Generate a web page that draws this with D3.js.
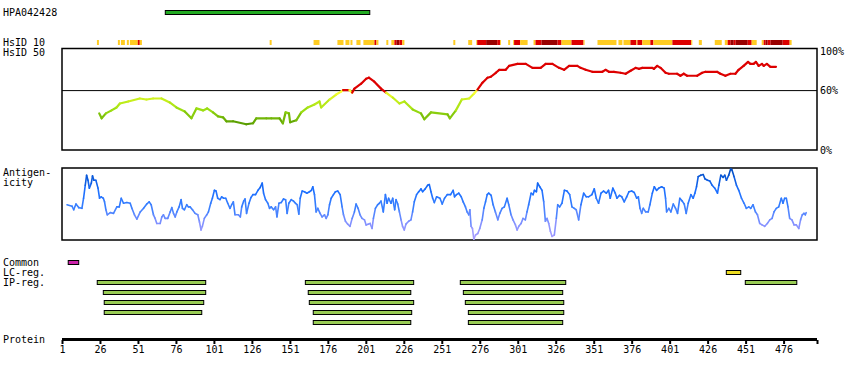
<!DOCTYPE html>
<html><head><meta charset="utf-8">
<script src="https://cdn.jsdelivr.net/npm/d3@7"></script>
<style>
body{margin:0;background:#fff;}
svg{display:block;}
text{font-family:"DejaVu Sans Mono",monospace;font-size:10px;fill:#000;}
</style></head><body>
<svg id="chart" width="850" height="380"></svg>
<script>
// ---------- DATA ----------
const proteinLength = 497;
const axisTicks = [1,26,51,76,101,126,151,176,201,226,251,276,301,326,351,376,401,426,451,476];
const antibodyName = "HPA042428";
const antibodyRange = [69, 203.6];
const identityTicks = [100, 60, 0];
const identityThreshold = 60;
// HsID 10 segments: [start, end, level] level 1 = yellow, 2 = red, 3 = dark red
const hsid10Segments = [
  [24,25.3,1],[37.8,39.1,1],[39.8,42.4,1],[43.7,45,1],[45.7,50.9,1],[50.9,52.2,2],[52.2,53.6,1],
  [137.7,139,1],[166.6,170.5,1],[182.3,186.3,1],[187.6,190.2,1],[190.9,192.2,1],[194.8,197.5,1],
  [199.4,206.7,1],[206.7,208,2],[208,209.3,1],[214.5,215.8,1],
  [217.8,219.8,1],[219.8,221.1,2],[221.1,223.1,3],[223.1,225,2],[225,226.4,1],
  [258.6,259.9,1],[268.4,271,1],
  [273.7,274.3,1],[274.3,280.2,2],[280.2,287.5,3],[287.5,289.4,2],[289.4,290,1],
  [294.7,296,1],[298,298.6,1],[298.6,302.6,2],[302.6,307.5,1],
  [311.4,312.7,1],[312.7,316.7,2],[316.7,327.2,3],[327.2,329.8,2],[329.8,336.4,1],[336.4,344.3,2],[344.3,345,1],
  [353.5,366,1],[367.3,369.9,1],
  [370.6,375.2,1],[375.2,379.1,2],[379.1,379.8,1],[379.8,383,2],[383,388.3,1],[388.3,390.3,2],[390.3,402.8,1],[402.8,415.2,2],[415.2,415.9,1],
  [420.2,422.2,1],[430.7,435.3,1],
  [437.3,439.2,1],[439.2,441.2,2],[441.2,443.2,3],[443.2,444.5,2],[444.5,452.4,3],[452.4,455,2],[455,458.3,1],
  [461.6,462.9,1],[462.9,464.2,2],[464.2,465.5,3],[465.5,467.5,2],[467.5,475.4,3],[475.4,480,2],[480,481.3,1]
];
// HsID 50 identity (%) : [residue, value]
const identity = [
  [25.5,37],[27.1,32],[29.9,37],[33.6,40],[36.9,43],[39.1,47],[44.6,49],[52.2,52],[56.6,51],[61,52],[66.5,52],[71.9,48],
  [76.3,43],[81.8,39],[86.2,32],[89.5,42],[93.9,40],[96.5,42],[100.4,38],[103.7,34],[107,33],[109.2,29],[113.6,29],
  [122.3,26],[126.7,27],[128.9,32],[135.5,32],[138.8,32],[144.2,32],[146.4,27],[148.2,38],[150.4,37],[151.2,28],
  [155.2,30],[158.5,38],[162.8,43],[167.2,46],[170.5,49],[171.6,43],[177.1,51],[181.5,56],[184.7,59],[186,60.5],
  [190.2,60.5],[192,58],[193.5,62],[197.9,67],[201.2,72],[203,73],[206.6,69],[211,62],[214.3,58],[218.7,53],
  [223.1,47],[226.4,49],[231.8,41],[237.3,37],[239.5,31],[243.9,38],[254.8,36],[256.3,32],[260.3,40],[264.2,51],
  [269,52],[272.3,57],[274.5,61],[277.8,68],[281.1,73],[283.3,74],[286.6,78],[288.8,81],[293.1,81],[295.3,85],
  [300.8,87],[306.3,87],[310.7,83],[316.1,83],[319.4,87],[323.8,87],[328.2,83],[331.5,81],[334.8,85],[340.2,85],
  [342.4,83],[345.7,81],[350.1,79],[356.7,79],[358.8,81],[361,79],[364.3,79],[368.7,78],[372,77],[375.3,80],
  [378.6,83],[380.7,82],[383,83],[389.5,83],[390.6,82],[392.8,85],[395,83],[398.3,78],[400.5,77],[405.9,77],
  [408.1,75],[410.3,77],[412.5,75],[419.1,75],[422.4,78],[424.6,79],[432.2,79],[434.4,77],[437.7,75],[441,77],
  [444.3,77],[446.4,81],[449.7,85],[452.6,89],[454.1,87],[456.3,87],[457.8,89],[459.6,85],[461.8,87],[462.9,85],
  [465,87],[467.3,84],[471,84]
];
// Antigenicity (relative score 0-100): [residue, value]
const antigenicity = [
  [4.3,49],[7.6,47],[8.7,42],[10.2,50],[12,45],[14.1,44],[15.2,58],[16.3,76],[17.2,90],[18.1,83],[19,72],[20.3,79],
  [21.1,89],[22,83],[23.3,83],[24.7,72],[25.7,58],[26.8,60],[28.2,58],[29,53],[29.9,42],[30.8,35],[32.8,38],[34.9,37],
  [37.1,46],[38.7,46],[40,58],[41.5,51],[43.7,52],[45.9,51],[47,44],[48.7,35],[50.3,29],[52.5,39],[54.7,44],[56.8,50],
  [58.4,53],[59.7,49],[61.2,35],[62.3,30],[63.4,23],[65.6,23],[66.7,32],[67.8,35],[68.9,30],[70.6,30],[72.2,39],
  [73.3,45],[74.4,37],[75.5,32],[76.6,39],[78.1,46],[79.4,56],[80.3,44],[81.6,42],[83.1,49],[84.2,46],[85.3,46],
  [86.9,42],[88.6,37],[90.4,35],[91.5,25],[92.5,14],[93.4,19],[94.7,30],[96.3,35],[97.4,39],[98.9,51],[100,58],
  [101.3,69],[102.4,68],[103.5,58],[105,56],[106.1,60],[107.4,58],[108.8,58],[110.1,51],[111.6,44],[112.7,49],
  [113.8,53],[114.9,35],[117.1,35],[118.4,32],[119.3,46],[120.6,54],[121.5,57],[122.5,37],[124.1,51],[125.4,59],
  [126.7,63],[128.4,63],[130,69],[131.5,73],[132.8,79],[133.7,65],[135,56],[136.5,51],[137.6,44],[138.7,46],
  [140.3,42],[141.6,46],[142.5,32],[143.8,51],[145.3,52],[146.8,57],[148.2,56],[149.2,37],[150.3,51],[151.9,56],
  [153.4,54],[154.7,51],[155.8,49],[156.9,36],[157.8,58],[159.1,68],[160.6,67],[162.2,65],[163.9,67],[165.2,69],
  [166.1,74],[167.2,63],[168.3,39],[169.4,44],[170.9,37],[172.2,32],[173.8,35],[174.9,30],[176,35],[177.1,49],
  [178.2,58],[179.7,63],[181,67],[182.5,68],[184.1,63],[185.4,46],[186.3,35],[187.6,26],[189.1,22],[190.6,19],
  [192,30],[193.5,39],[194.6,50],[195.9,44],[197.2,35],[198.5,30],[200.1,28],[201.2,21],[202.5,22],[203.8,23],
  [205.1,16],[206,30],[207.3,44],[208.8,49],[209.9,51],[211,54],[212.5,39],[213.9,63],[215,51],[216,58],[217.6,51],
  [218.7,58],[220,42],[220.9,56],[222,50],[223.1,39],[224.2,28],[225.2,19],[226.3,14],[227.4,22],[229.2,26],
  [230.7,28],[231.8,39],[232.9,53],[234.4,63],[235.8,67],[237.3,71],[238.4,67],[240.1,71],[241.7,76],[242.8,77],
  [243.9,67],[245,58],[246.1,52],[247.6,60],[249.8,58],[251.3,50],[252.8,58],[254.6,63],[256.8,63],[258.5,69],
  [259.4,60],[260.7,63],[262.2,65],[263.8,60],[265.1,53],[266.6,46],[267.7,39],[268.8,35],[269.5,42],[270.3,19],
  [271.2,16],[272.1,1],[273.2,7],[274.7,9],[276,16],[277.6,28],[278.7,44],[279.8,53],[280.9,63],[281.9,65],
  [283.5,62],[284.8,49],[286.3,39],[287.9,28],[289.2,37],[290.7,44],[292.2,46],[294,58],[295.1,49],[296.6,35],
  [297.9,28],[299.5,21],[300.6,14],[301.7,19],[303.2,23],[304.5,30],[306,28],[307.1,39],[308.2,49],[309.8,65],
  [311.1,63],[312,69],[313.3,67],[314.1,79],[315.5,74],[317,69],[318.1,53],[319.2,26],[320.3,30],[321.4,23],
  [322.5,12],[323.6,5],[325.1,7],[326.4,30],[327.3,49],[328.6,46],[330.1,51],[331.7,69],[333.4,68],[335.2,63],
  [336.7,46],[338.2,44],[339.5,42],[341.1,28],[342.6,49],[344.4,65],[346.1,60],[347.6,60],[349.8,63],[351.4,71],
  [352.7,58],[354.2,51],[355.8,65],[357.5,68],[359.3,65],[360.8,69],[361.9,58],[363.6,72],[365.2,65],[366.3,58],
  [368,62],[369.5,60],[371.1,53],[372.7,60],[374.2,67],[376,68],[377.7,66],[379.3,58],[380.4,60],[381.5,44],
  [382.6,37],[383.6,44],[385.2,39],[386.9,39],[388,49],[389.6,65],[390.9,74],[392.4,69],[393.9,72],[395.7,74],
  [397.4,72],[398.3,58],[399,39],[400.5,44],[401.8,39],[403.4,50],[404.9,44],[406.2,37],[407.7,58],[409.3,54],
  [410.6,50],[411.9,37],[413.2,51],[415,63],[416.5,58],[417.6,65],[418.7,74],[419.8,88],[421.5,90],[423.1,91],
  [424.2,85],[425.9,83],[427.4,82],[429,76],[430.7,72],[432.5,65],[433.4,76],[434.7,90],[436.2,87],[437.3,90],
  [438.4,83],[439.9,90],[441.2,99],[442.1,97],[443.4,88],[445,76],[446.5,69],[448.3,58],[450,51],[451.5,44],
  [453.1,46],[454.4,44],[455.9,49],[457.5,39],[458.8,35],[460.3,23],[461.8,21],[463.6,19],[465.3,23],[466.9,28],
  [468.4,30],[469.7,39],[471.2,44],[472.8,46],[474.5,58],[475.6,51],[476.7,58],[477.8,58],[478.9,46],[480,30],
  [481.5,28],[482.9,21],[484.4,21],[486,16],[487.2,28],[488.3,35],[489.4,37],[490.3,35],[490.9,38]
];
const commonRegions = [[5.1, 12]];
const lcRegions = [[438.3, 447.8]];
// IP regions: [start, end, row]
const ipRegions = [
  [24.2,95.6,0],[28.2,95.6,1],[28.8,94.3,2],[28.8,93,3],
  [161.2,232.5,0],[163.1,230.6,1],[163.8,232.5,2],[166.4,231.2,3],[166.4,230.6,4],
  [263.2,332.6,0],[265.2,330.6,1],[266.5,331.3,2],[268.5,331.3,3],[268.5,330.6,4],
  [450.8,484.7,0]
];
const rowLabels = ["Common","LC-reg.","IP-reg."];

// ---------- DRAW ----------
const svg = d3.select("#chart");
const x = d3.scaleLinear().domain([1, proteinLength + 1]).range([62, 817]);
const yId = d3.scaleLinear().domain([0, 100]).range([150, 51]);
const yAg = d3.scaleLinear().domain([0, 100]).range([240, 168]);

const idColor = d3.scaleLinear().domain([26, 40, 50, 59.9]).range(["#559900", "#99dd11", "#c4ee1a", "#ffff33"]).clamp(true);
const agColor = d3.scaleLinear().domain([0, 25, 45, 70, 100]).range(["#b0a0ff", "#8090ff", "#3a80ff", "#1a6eff", "#0048b8"]).clamp(true);
const hsColors = {1: "#ffcc22", 2: "#dd0000", 3: "#990000"};

// left labels
svg.append("text").attr("x", 3).attr("y", 16).text(antibodyName);
svg.append("text").attr("x", 3).attr("y", 46).text("HsID 10");
svg.append("text").attr("x", 3).attr("y", 56).text("HsID 50");
svg.append("text").attr("x", 3).attr("y", 176).text("Antigen-");
svg.append("text").attr("x", 3).attr("y", 186).text("icity");
rowLabels.forEach((l, i) => svg.append("text").attr("x", 3).attr("y", 266 + i * 10).text(l));
svg.append("text").attr("x", 3).attr("y", 343).text("Protein");

// antibody bar
svg.append("rect").attr("x", x(antibodyRange[0])).attr("y", 10.5)
  .attr("width", x(antibodyRange[1]) - x(antibodyRange[0])).attr("height", 4)
  .attr("fill", "#22aa22").attr("stroke", "#000").attr("stroke-width", 1);

// HsID 10 strip
svg.append("g").selectAll("rect").data(hsid10Segments).join("rect")
  .attr("x", d => x(d[0])).attr("y", 40)
  .attr("width", d => Math.max(0.8, x(d[1]) - x(d[0]))).attr("height", 5)
  .attr("fill", d => hsColors[d[2]]);

// HsID 50 box
svg.append("rect").attr("x", 62).attr("y", 48.5).attr("width", 755).attr("height", 101.5)
  .attr("fill", "none").attr("stroke", "#000").attr("stroke-width", 1.5);
svg.append("line").attr("x1", 62).attr("x2", 817).attr("y1", yId(identityThreshold)).attr("y2", yId(identityThreshold))
  .attr("stroke", "#000").attr("stroke-width", 1);
identityTicks.forEach(t => {
  svg.append("text").attr("x", 820).attr("y", yId(t) + 3.5).text(t + "%");
});
const idSegs = d3.pairs(identity);
svg.append("g").selectAll("line").data(idSegs).join("line")
  .attr("x1", d => x(d[0][0])).attr("y1", d => yId(d[0][1]))
  .attr("x2", d => x(d[1][0])).attr("y2", d => yId(d[1][1]))
  .attr("stroke", d => {
    const v = (d[0][1] + d[1][1]) / 2;
    return v >= identityThreshold ? "#dd0000" : idColor(v);
  })
  .attr("stroke-width", 2.2).attr("stroke-linecap", "round");

// Antigenicity box
svg.append("rect").attr("x", 62).attr("y", 168).attr("width", 755).attr("height", 72)
  .attr("fill", "none").attr("stroke", "#000").attr("stroke-width", 1.5);
const agSegs = d3.pairs(antigenicity);
svg.append("g").selectAll("line").data(agSegs).join("line")
  .attr("x1", d => x(d[0][0])).attr("y1", d => yAg(d[0][1]))
  .attr("x2", d => x(d[1][0])).attr("y2", d => yAg(d[1][1]))
  .attr("stroke", d => agColor((d[0][1] + d[1][1]) / 2))
  .attr("stroke-width", 1.6).attr("stroke-linecap", "round");

// Region bars
function bars(data, rowFn, fill) {
  svg.append("g").selectAll("rect").data(data).join("rect")
    .attr("x", d => x(d[0])).attr("y", d => rowFn(d))
    .attr("width", d => x(d[1]) - x(d[0])).attr("height", 4)
    .attr("fill", fill).attr("stroke", "#000").attr("stroke-width", 1);
}
bars(commonRegions, () => 260.5, "#cc22aa");
bars(lcRegions, () => 270.5, "#eedd22");
bars(ipRegions, d => 280.5 + d[2] * 10, "#99cc55");

// Protein axis
svg.append("rect").attr("x", 62).attr("y", 338).attr("width", 755).attr("height", 3).attr("fill", "#000");
const axis = d3.axisBottom(x).tickValues(axisTicks.concat([proteinLength + 1]))
  .tickFormat(d => axisTicks.includes(d) ? d : "").tickSize(4).tickPadding(2);
const ag = svg.append("g").attr("transform", "translate(0,340)").call(axis);
ag.select(".domain").remove();
ag.selectAll(".tick line").attr("stroke", "#000").attr("stroke-width", 2);
ag.selectAll(".tick text").attr("font-family", "DejaVu Sans Mono").attr("font-size", 10).attr("fill", "#000").attr("dy", "0.71em");
</script>
</body></html>
